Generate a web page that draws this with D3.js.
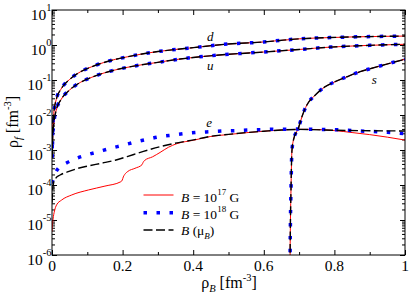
<!DOCTYPE html>
<html>
<head>
<meta charset="utf-8">
<script src="https://cdn.jsdelivr.net/npm/d3@7"></script>
<style>
  body { margin: 0; background: #fff; }
  svg text { font-family: "Liberation Serif", "DejaVu Serif", serif; }
</style>
</head>
<body>
<div id="chart"></div>
<script>
/* global d3 */

/* tick values */
var xTicks = [0, 0.2, 0.4, 0.6, 0.8, 1];
var xMinorTicks = [0.1, 0.3, 0.5, 0.7, 0.9];
var yTickExp = [-6, -5, -4, -3, -2, -1, 0, 1];

/* quark densities (the three field cases lie on top of each other) */
var rhoQ = [0.0005, 0.002, 0.005, 0.013, 0.025, 0.05, 0.08, 0.113, 0.145, 0.18, 0.215, 0.25,
  0.3, 0.363, 0.4, 0.5, 0.6, 0.646, 0.7, 0.788, 0.85, 0.9, 1.0];
var dQuark = [0.0011, 0.0045, 0.011, 0.03, 0.054, 0.104, 0.17, 0.24, 0.312, 0.39, 0.463, 0.542,
  0.65, 0.77, 0.84, 1.07, 1.22, 1.35, 1.5, 1.63, 1.7, 1.74, 1.8];
var uQuark = [0.0006, 0.0023, 0.0055, 0.015, 0.027, 0.052, 0.085, 0.12, 0.156, 0.195, 0.232, 0.268,
  0.32, 0.398, 0.44, 0.542, 0.63, 0.68, 0.745, 0.87, 0.935, 0.978, 1.05];

var rhoS = [0.6743, 0.6745, 0.6755, 0.677, 0.6795, 0.684, 0.698, 0.708, 0.722, 0.746, 0.774,
  0.802, 0.836, 0.873, 0.906, 0.939, 0.973, 1.0];
var sQuark = [5e-7, 1e-6, 1e-5, 7e-5, 8.9e-4, 1.93e-3, 4.2e-3, 8.9e-3, 0.0193, 0.0373, 0.0644,
  0.0893, 0.124, 0.173, 0.216, 0.268, 0.333, 0.39];

/* electrons, B = 1e17 G */
var rhoE17 = [0, 0.001, 0.003, 0.007, 0.013, 0.027, 0.056, 0.103, 0.15, 0.195, 0.199, 0.202,
  0.206, 0.215, 0.235, 0.255, 0.258, 0.262, 0.285, 0.306, 0.33, 0.354, 0.401, 0.448, 0.5, 0.55,
  0.6, 0.65, 0.7, 0.75, 0.8, 0.85, 0.9, 0.95, 1.0];
var eB17 = [4.7e-6, 6.8e-6, 1.07e-5, 1.8e-5, 2.7e-5, 3.7e-5, 5.2e-5, 7.2e-5, 9.3e-5, 1.24e-4,
  1.38e-4, 1.7e-4, 2.0e-4, 2.45e-4, 3.0e-4, 3.8e-4, 4.4e-4, 5.0e-4, 6.4e-4, 8.5e-4, 1.2e-3,
  1.52e-3, 1.9e-3, 2.42e-3, 2.77e-3, 3.12e-3, 3.44e-3, 3.73e-3, 3.9e-3, 3.85e-3, 3.6e-3,
  3.15e-3, 2.75e-3, 2.33e-3, 1.92e-3];

/* electrons, B = 1e18 G */
var rhoE18 = [0, 0.004, 0.018, 0.042, 0.07, 0.098, 0.131, 0.166, 0.2, 0.233, 0.268, 0.306,
  0.344, 0.377, 0.415, 0.448, 0.486, 0.524, 0.557, 0.59, 0.627, 0.7, 0.75, 0.8, 0.85, 0.9, 0.95, 1.0];
var eB18 = [1.1e-4, 1.55e-4, 3.0e-4, 4.3e-4, 5.8e-4, 7.2e-4, 8.9e-4, 1.12e-3, 1.36e-3, 1.66e-3,
  2.0e-3, 2.4e-3, 2.68e-3, 2.95e-3, 3.2e-3, 3.33e-3, 3.49e-3, 3.6e-3, 3.73e-3, 3.8e-3, 3.92e-3,
  3.95e-3, 3.9e-3, 3.8e-3, 3.6e-3, 3.4e-3, 3.2e-3, 2.95e-3];

/* electrons, density dependent B(mu_B) */
var rhoEmu = [0, 0.002, 0.005, 0.01, 0.023, 0.046, 0.074, 0.103, 0.141, 0.179, 0.213, 0.259,
  0.306, 0.354, 0.401, 0.448, 0.5, 0.55, 0.6, 0.65, 0.7, 0.8, 0.9, 1.0];
var eBmu = [3.1e-5, 7.2e-5, 1.22e-4, 1.53e-4, 1.93e-4, 2.4e-4, 3.0e-4, 3.5e-4, 4.2e-4, 5.1e-4,
  6.5e-4, 9.1e-4, 1.24e-3, 1.6e-3, 1.95e-3, 2.45e-3, 2.8e-3, 3.14e-3, 3.44e-3, 3.73e-3,
  3.88e-3, 3.66e-3, 3.55e-3, 3.5e-3];

var styles = {
  b17: { stroke: "#ff0000", width: 1, dash: null },
  b18: { stroke: "#0000ff", width: 3.5, dash: "3.5,9.5" },
  bmu: { stroke: "#000000", width: 1.4, dash: "9,3.5" }
};

function zip(xs, ys) {
  return xs.map(function(v, i) { return { x: v, y: ys[i] }; });
}

var margin = { top: 10, right: 4, bottom: 42, left: 52 };
var width = 409 - margin.left - margin.right;
var height = 297 - margin.top - margin.bottom;

var svg = d3.select("#chart").append("svg")
  .attr("width", 409)
  .attr("height", 297)
  .style("display", "block");

var g = svg.append("g")
  .attr("transform", "translate(" + margin.left + "," + margin.top + ")");

var x = d3.scaleLinear().domain([0, 1]).range([0, width]);
var y = d3.scaleLog().domain([1e-6, 10]).range([height, 0]);

g.append("clipPath").attr("id", "clip")
  .append("rect").attr("width", width).attr("height", height);

/* minor log ticks between decades */
var yMinor = [];
yTickExp.slice(0, -1).forEach(function(e) {
  for (var k = 2; k <= 9; k++) yMinor.push(k * Math.pow(10, e));
});
var yMajor = yTickExp.map(function(e) { return Math.pow(10, e); });

function tickAxis(axis, values, size) {
  return axis.tickValues(values).tickSize(-size).tickFormat("");
}

var axes = [
  [d3.axisBottom(x), xMinorTicks, 3, "translate(0," + height + ")"],
  [d3.axisBottom(x), xTicks, 5, "translate(0," + height + ")"],
  [d3.axisTop(x), xMinorTicks, 3, null],
  [d3.axisTop(x), xTicks, 5, null],
  [d3.axisLeft(y), yMinor, 3, null],
  [d3.axisLeft(y), yMajor, 5, null],
  [d3.axisRight(y), yMinor, 3, "translate(" + width + ",0)"],
  [d3.axisRight(y), yMajor, 5, "translate(" + width + ",0)"]
];
axes.forEach(function(a) {
  var ag = g.append("g").call(tickAxis(a[0], a[1], a[2]));
  if (a[3]) ag.attr("transform", a[3]);
  ag.select(".domain").remove();
  ag.selectAll("line").attr("stroke", "#000");
});

/* x tick labels */
g.selectAll(".xlab").data(xTicks).enter().append("text")
  .attr("class", "xlab")
  .attr("x", function(d) { return x(d); })
  .attr("y", height + 16)
  .attr("text-anchor", "middle")
  .style("font-size", "15.5px")
  .text(function(d) { return d3.format("")(d); });

/* y tick labels: 10^n */
var ylab = g.selectAll(".ylab").data(yTickExp).enter().append("text")
  .attr("class", "ylab")
  .attr("x", -0.5)
  .attr("y", function(d) { return y(Math.pow(10, d)) + 9.5; })
  .attr("text-anchor", "end")
  .style("font-size", "15.5px");
ylab.append("tspan").text("10");
ylab.append("tspan").attr("dy", "-8.5").style("font-size", "10.5px")
  .text(function(d) { return d < 0 ? "-" + (-d) : d; });

/* curves */
var line = d3.line()
  .x(function(d) { return x(d.x); })
  .y(function(d) { return y(d.y); })
  .curve(d3.curveMonotoneX);

var series = [];
["b17", "b18", "bmu"].forEach(function(k) {
  series.push({ style: k, data: zip(rhoQ, dQuark) });
  series.push({ style: k, data: zip(rhoQ, uQuark) });
  series.push({ style: k, data: zip(rhoS, sQuark) });
});
series.splice(3, 0, { style: "b17", data: zip(rhoE17, eB17) });
series.splice(7, 0, { style: "b18", data: zip(rhoE18, eB18) });
series.push({ style: "bmu", data: zip(rhoEmu, eBmu) });

var plot = g.append("g").attr("clip-path", "url(#clip)");
plot.selectAll(".curve").data(series).enter().append("path")
  .attr("class", "curve")
  .attr("fill", "none")
  .attr("stroke", function(d) { return styles[d.style].stroke; })
  .attr("stroke-width", function(d) { return styles[d.style].width; })
  .attr("stroke-dasharray", function(d) { return styles[d.style].dash; })
  .attr("d", function(d) { return line(d.data); });

/* frame */
g.append("rect")
  .attr("width", width).attr("height", height)
  .attr("fill", "none").attr("stroke", "#000").attr("stroke-width", 1);

/* particle labels */
var names = [["d", 0.448, 1.3], ["u", 0.448, 0.19], ["s", 0.913, 0.077], ["e", 0.445, 4.4e-3]];
g.selectAll(".pname").data(names).enter().append("text")
  .attr("x", function(d) { return x(d[1]); })
  .attr("y", function(d) { return y(d[2]); })
  .attr("text-anchor", "middle")
  .style("font-size", "13px")
  .style("font-style", "italic")
  .text(function(d) { return d[0]; });

/* legend */
var legend = svg.append("g");
var rows = [
  { style: "b17", y: 195, exp: "17" },
  { style: "b18", y: 212.7, exp: "18" },
  { style: "bmu", y: 230, exp: null }
];
rows.forEach(function(r) {
  var s = styles[r.style];
  legend.append("line")
    .attr("x1", 143.5).attr("x2", 173.5)
    .attr("y1", r.y).attr("y2", r.y)
    .attr("stroke", s.stroke)
    .attr("stroke-width", s.width)
    .attr("stroke-dasharray", s.dash);
  var t = legend.append("text")
    .attr("x", 181).attr("y", r.y + (r.exp ? 6.5 : 4.5))
    .style("font-size", "13.5px");
  t.append("tspan").style("font-style", "italic").text("B");
  if (r.exp) {
    t.append("tspan").text(" = 10");
    t.append("tspan").attr("dy", -7).style("font-size", "9px").text(r.exp);
    t.append("tspan").attr("dy", 7).text(" G");
  } else {
    t.append("tspan").text(" (\u03bc");
    t.append("tspan").attr("dy", 4).style("font-size", "9px").style("font-style", "italic").text("B");
    t.append("tspan").attr("dy", -4).text(")");
  }
});

/* axis titles */
var xt = svg.append("text")
  .attr("x", margin.left + x(0.5) + 0.5).attr("y", 288)
  .attr("text-anchor", "middle")
  .style("font-size", "16px");
xt.append("tspan").text("\u03c1");
xt.append("tspan").attr("dy", 4).style("font-size", "10.5px").style("font-style", "italic").text("B");
xt.append("tspan").attr("dy", -4).text(" [fm");
xt.append("tspan").attr("dy", -7).style("font-size", "10.5px").text("-3");
xt.append("tspan").attr("dy", 7).text("]");

var yt = svg.append("text")
  .attr("transform", "translate(18,122) rotate(-90)")
  .attr("text-anchor", "middle")
  .style("font-size", "16px");
yt.append("tspan").text("\u03c1");
yt.append("tspan").attr("dy", 4).style("font-size", "10.5px").style("font-style", "italic").text("f");
yt.append("tspan").attr("dy", -4).text(" [fm");
yt.append("tspan").attr("dy", -7).style("font-size", "10.5px").text("-3");
yt.append("tspan").attr("dy", 7).text("]");
</script>
</body>
</html>
